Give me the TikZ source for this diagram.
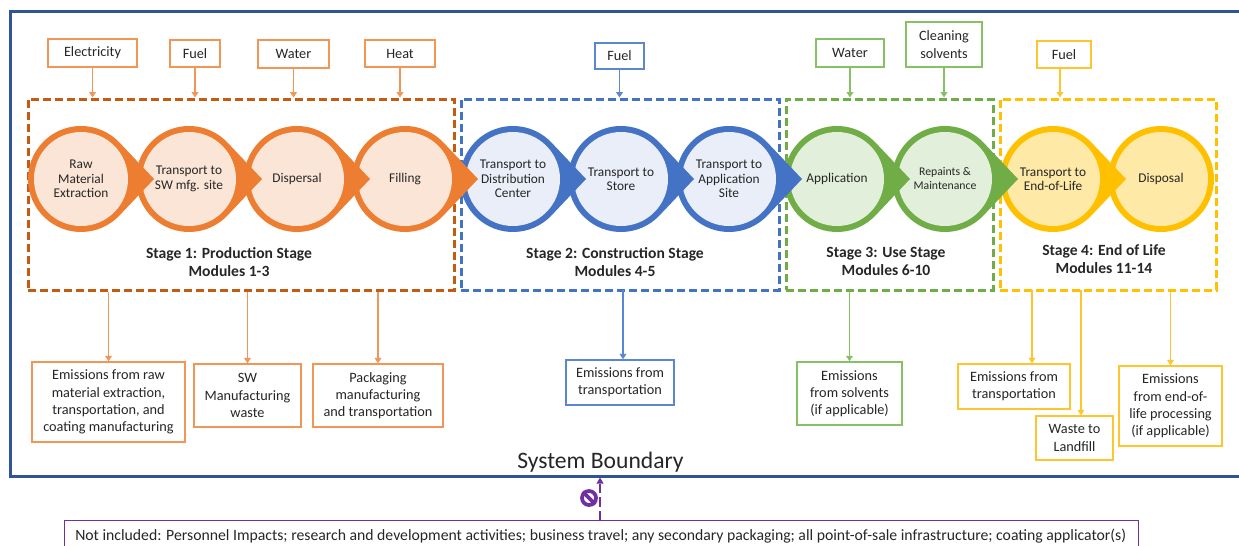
\documentclass[tikz,border=0pt]{standalone}
\usepackage{fontspec}
\setmainfont{Carlito}
\usetikzlibrary{arrows.meta,calc}
\definecolor{txt}{HTML}{262626}
\definecolor{sbblue}{HTML}{2F5597}
\definecolor{oring}{HTML}{ED7D31}
\definecolor{olight}{HTML}{FBE5D6}
\definecolor{odash}{HTML}{C55A11}
\definecolor{obox}{HTML}{F19656}
\definecolor{bring}{HTML}{4472C4}
\definecolor{blight}{HTML}{E9EEF8}
\definecolor{bbox}{HTML}{5B87D2}
\definecolor{gring}{HTML}{70AD47}
\definecolor{glight}{HTML}{E2EFDA}
\definecolor{gbox}{HTML}{88C065}
\definecolor{yring}{HTML}{FFC000}
\definecolor{ylight}{HTML}{FFE9A6}
\definecolor{ybox}{HTML}{FFC52E}
\definecolor{purp}{HTML}{7030A0}
\newcommand{\tearshape}[2]{\fill[#2] ({#1},179) ++(43.4:53) arc[start angle=43.4,end angle=316.6,radius=53] -- ({#1+73},179) -- cycle;}
\tikzset{
  circtext/.style={circle, inner sep=0pt, minimum size=70.5pt, align=center, text=txt, font=\fontsize{10}{10.8}\selectfont},
  stagebox/.style={draw=#1, line width=2.25pt, dash pattern=on 6pt off 3pt, inner sep=0pt, minimum height=143.25pt},
  stagelabel/.style={align=center, inner sep=0pt, text=txt, font=\bfseries\fontsize{11.7}{13.5}\selectfont},
  iobox/.style={draw=#1, line width=1.1pt, fill=white, inner sep=0pt, align=center, text=txt, font=\fontsize{10.7}{12.9}\selectfont},
  arr/.style={draw=#1, line width=1.1pt, -{Triangle[length=4pt,width=5pt]}},
}
\begin{document}
\begin{tikzpicture}[x=0.75pt,y=-0.75pt]
\useasboundingbox (0,0) rectangle (1239,546);
% system boundary
\node[draw=sbblue, line width=2.25pt, inner sep=0pt, minimum width=930pt, minimum height=348.75pt] (SB) at (630,243.5) {};
\node[anchor=base, inner sep=0pt, text=txt, font=\fontsize{17.7}{20}\selectfont] (SBlabel) at (600.5,468) {System Boundary};
% stage boxes
\node[stagebox=odash, minimum width=319.5pt] (S1) at (241,194.5) {};
\node[stagebox=bring, minimum width=238.5pt] (S2) at (620,194.5) {};
\node[stagebox=gring, minimum width=155.25pt] (S3) at (889.5,194.5) {};
\node[stagebox=yring, minimum width=162pt] (S4) at (1108,194.5) {};
% circles (right to left so that tips lie on top)
\fill[yring] (1161,179) circle[radius=53];
\node[circtext, fill=ylight] (c10) at (1161,179) {Disposal};
\tearshape{1053}{yring}
\node[circtext, fill=ylight] (c9) at (1053,179) {Transport to\\End-of-Life};
\tearshape{945}{gring}
\node[circtext, fill=glight, font=\fontsize{8.8}{10.5}\selectfont] (c8) at (945,179) {Repaints \&\\Maintenance};
\tearshape{837}{gring}
\node[circtext, fill=glight] (c7) at (837,179) {Application};
\tearshape{729}{bring}
\node[circtext, fill=blight] (c6) at (729,179) {Transport to\\Application\\Site};
\tearshape{621}{bring}
\node[circtext, fill=blight] (c5) at (621,179) {Transport to\\Store};
\tearshape{513}{bring}
\node[circtext, fill=blight] (c4) at (513,179) {Transport to\\Distribution\\Center};
\tearshape{405}{oring}
\node[circtext, fill=olight] (c3) at (405,179) {Filling};
\tearshape{297}{oring}
\node[circtext, fill=olight] (c2) at (297,179) {Dispersal};
\tearshape{189}{oring}
\node[circtext, fill=olight] (c1) at (189,179) {Transport to\\SW mfg. site};
\tearshape{81}{oring}
\node[circtext, fill=olight] (c0) at (81,179) {Raw\\Material\\Extraction};
% stage labels
\node[stagelabel] (L1) at (229,262) {Stage 1: Production Stage\\Modules 1-3};
\node[stagelabel] (L2) at (615,262) {Stage 2: Construction Stage\\Modules 4-5};
\node[stagelabel] (L3) at (886,261.5) {Stage 3: Use Stage\\Modules 6-10};
\node[stagelabel] (L4) at (1104,259) {Stage 4: End of Life\\Modules 11-14};
% inputs
\node[iobox=obox, minimum width=66.75pt, minimum height=21pt] (iE) at (92.5,53) {Electricity};
\node[iobox=obox, minimum width=37.5pt, minimum height=20.25pt] (iF1) at (195,53.5) {Fuel};
\node[iobox=obox, minimum width=53.25pt, minimum height=21pt] (iW1) at (293.5,54) {Water};
\node[iobox=obox, minimum width=52.5pt, minimum height=20.25pt] (iH) at (400,53.5) {Heat};
\node[iobox=bbox, minimum width=36.75pt, minimum height=19.5pt] (iF2) at (619.5,56) {Fuel};
\node[iobox=gbox, minimum width=51pt, minimum height=21pt] (iW3) at (850,53) {Water};
\node[iobox=gbox, minimum width=57pt, minimum height=33.75pt] (iCS) at (944,44.5) {Cleaning\\solvents};
\node[iobox=ybox, minimum width=40.5pt, minimum height=20.25pt] (iF4) at (1064,54.5) {Fuel};
\draw[arr=obox] (iE) -- (iE |- S1.north);
\draw[arr=obox] (iF1) -- (iF1 |- S1.north);
\draw[arr=obox] (iW1) -- (iW1 |- S1.north);
\draw[arr=obox] (iH) -- (iH |- S1.north);
\draw[arr=bbox] (iF2) -- (iF2 |- S2.north);
\draw[arr=gbox] (iW3) -- (iW3 |- S3.north);
\draw[arr=gbox] (iCS) -- (iCS |- S3.north);
\coordinate (a4in) at (1060,67);
\draw[arr=ybox] (a4in) -- (a4in |- S4.north);
% outputs
\node[iobox=obox, minimum width=114.75pt, minimum height=60pt] (O1) at (108.5,402) {Emissions from raw\\material extraction,\\transportation, and\\coating manufacturing};
\node[iobox=obox, minimum width=80.25pt, minimum height=47.25pt] (O2) at (247.5,395.5) {SW\\Manufacturing\\waste};
\node[iobox=obox, minimum width=97.5pt, minimum height=47.25pt] (O3) at (378,395.5) {Packaging\\manufacturing\\and transportation};
\node[iobox=bbox, minimum width=81pt, minimum height=33.75pt] (O4) at (620,382.5) {Emissions from\\transportation};
\node[iobox=gbox, minimum width=78.75pt, minimum height=47.25pt] (O5) at (849.5,393.5) {Emissions\\from solvents\\(if applicable)};
\node[iobox=ybox, minimum width=84pt, minimum height=33.75pt] (O6) at (1014,386.5) {Emissions from\\transportation};
\node[iobox=ybox, minimum width=57.75pt, minimum height=33pt] (O7) at (1074.5,438) {Waste to\\Landfill};
\node[iobox=ybox, minimum width=77.25pt, minimum height=60pt] (O8) at (1170.5,406) {Emissions\\from end-of-\\life processing\\(if applicable)};
\draw[arr=obox] (O1 |- S1.south) -- (O1);
\draw[arr=obox] (O2 |- S1.south) -- (O2);
\draw[arr=obox] (O3 |- S1.south) -- (O3);
\coordinate (a4) at (623,290);
\draw[arr=bbox] (a4) -- (a4 |- O4.north);
\draw[arr=gbox] (O5 |- S3.south) -- (O5);
\coordinate (a6) at (1032,290);
\draw[arr=ybox] (a6) -- (a6 |- O6.north);
\coordinate (a7) at (1081,290);
\draw[arr=ybox] (a7) -- (a7 |- O7.north);
\draw[arr=ybox] (O8 |- S4.south) -- (O8);
% not included note
\node[draw=purp, line width=1pt, anchor=north west, inner sep=0pt, minimum width=805.5pt, minimum height=30pt] (note) at (64,520) {};
\node[anchor=base west, inner sep=0pt, text=txt, font=\fontsize{11.8}{13}\selectfont] (notetext) at (75,540.5) {Not included: Personnel Impacts; research and development activities; business travel; any secondary packaging; all point-of-sale infrastructure; coating applicator(s)};
\coordinate (pa) at (600,520);
\draw[draw=purp, line width=1.2pt, dash pattern=on 7pt off 3pt, -{Triangle[length=4.5pt,width=5pt]}] (pa) -- (pa |- SB.south);
\node[circle, draw=purp, line width=2.8pt, minimum size=10.5pt, inner sep=0pt] (nosym) at (589,498) {};
\draw[purp, line width=2.8pt] (nosym.north west) -- (nosym.south east);
\end{tikzpicture}
\end{document}
